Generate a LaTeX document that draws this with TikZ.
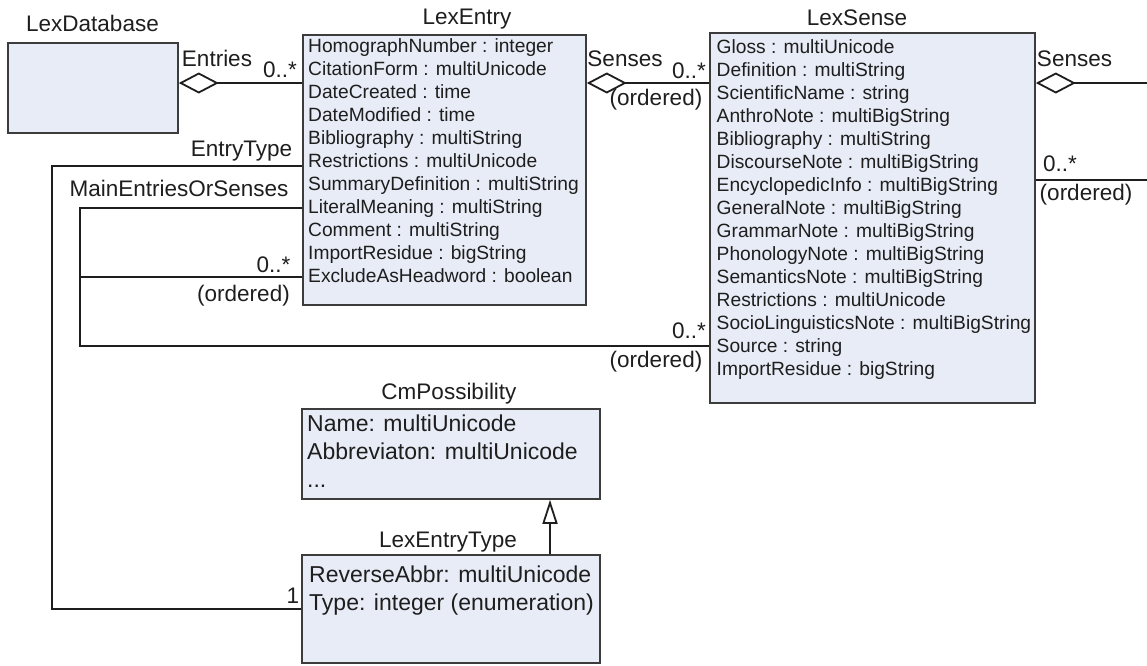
\documentclass[tikz,border=0pt]{standalone}
\usepackage{fontspec}
\setmainfont{Liberation Sans}
\usetikzlibrary{arrows.meta}
\definecolor{boxfill}{RGB}{232,236,246}
\definecolor{ink}{RGB}{30,30,30}
\definecolor{frame}{RGB}{60,60,60}

\begin{document}
\begin{tikzpicture}[x=1pt,y=-1pt,
  cls/.style={draw=frame, fill=boxfill, line width=1.8pt, inner sep=0pt, anchor=north west},
  title/.style={font=\fontsize{22.5pt}{27pt}\selectfont, text=ink, inner sep=0pt, anchor=base},
  lbl/.style={font=\fontsize{22.5pt}{27pt}\selectfont, text=ink, inner sep=0pt},
  attrs/.style={font=\fontsize{19.2pt}{23pt}\selectfont, text=ink, inner sep=0pt, anchor=north west, align=left},
  attrsbig/.style={font=\fontsize{23pt}{28pt}\selectfont, text=ink, inner sep=0pt, anchor=north west, align=left},
  assoc/.style={draw=ink, line width=1.8pt},
  agg/.style={assoc, {Diamond[open,length=40pt,width=21pt]}-},
  gen/.style={assoc, -{Triangle[open,length=24pt,width=15pt]}},
]
\fill[white] (0,0) rectangle (1147,665);
\useasboundingbox (0,0) rectangle (1147,665);

% classes
\node[cls, minimum width=170pt, minimum height=90pt] (db) at (7,42) {};
\node[cls, minimum width=283pt, minimum height=270pt] (entry) at (302,34) {};
\node[cls, minimum width=325pt, minimum height=370pt] (sense) at (709,32) {};
\node[cls, minimum width=298pt, minimum height=90pt] (poss) at (301,408) {};
\node[cls, minimum width=298pt, minimum height=108pt] (etype) at (301,554) {};

% class names
\node[title] (tdb) at (92.5,31) {LexDatabase};
\node[title] (tentry) at (467,24) {LexEntry};
\node[title] (tsense) at (857,25) {LexSense};
\node[title] (tposs) at (449,399) {CmPossibility};
\node[title] (tetype) at (448,547) {LexEntryType};

% attributes
\node[attrs] (aentry) at (308,38.5) {HomographNumber : integer\\
CitationForm : multiUnicode\\
DateCreated : time\\
DateModified : time\\
Bibliography : multiString\\
Restrictions : multiUnicode\\
SummaryDefinition : multiString\\
LiteralMeaning : multiString\\
Comment : multiString\\
ImportResidue : bigString\\
ExcludeAsHeadword : boolean};

\node[attrs] (asense) at (716.5,39.5) {Gloss : multiUnicode\\
Definition : multiString\\
ScientificName : string\\
AnthroNote : multiBigString\\
Bibliography : multiString\\
DiscourseNote : multiBigString\\
EncyclopedicInfo : multiBigString\\
GeneralNote : multiBigString\\
GrammarNote : multiBigString\\
PhonologyNote : multiBigString\\
SemanticsNote : multiBigString\\
Restrictions : multiUnicode\\
SocioLinguisticsNote : multiBigString\\
Source : string\\
ImportResidue : bigString};

\node[attrsbig] (aposs) at (307,414.5) {Name: multiUnicode\\
Abbreviaton: multiUnicode\\
...};

\node[attrsbig] (aetype) at (309,565.5) {ReverseAbbr: multiUnicode\\
Type: integer (enumeration)};

% free ends and junctions of connectors
\coordinate (outA) at (1147,83);
\coordinate (outB) at (1147,180);
\coordinate (mj) at (80,277);

% aggregations
\draw[agg] (db.east |- 0,83) -- (entry.west |- 0,83);
\draw[agg] (entry.east |- 0,83) -- (sense.west |- 0,83);
\draw[agg] (sense.east |- 0,83) -- (outA);
\draw[assoc] (sense.east |- 0,180) -- (outB);

% EntryType
\draw[assoc] (entry.west |- 0,166) -- (52,166) -- (52,609) -- (etype.west |- 0,609);

% MainEntriesOrSenses
\draw[assoc] (entry.west |- 0,208) -- (80,208) -- (80,346) -- (sense.west |- 0,346);
\draw[assoc] (mj) -- (entry.west |- mj);

% generalization
\draw[gen] (etype.north -| 550,0) -- (poss.south -| 550,0);

% connector labels
\node[lbl] (lentries) at (217,58) {Entries};
\node[lbl] (mentries) at (280,70) {0..*};
\node[lbl] (lsenses) at (625,59) {Senses};
\node[lbl] (msenses) at (689,71) {0..*};
\node[lbl] (osenses) at (656,100) {(ordered)};
\node[lbl] (lsenses2) at (1074.5,58.5) {Senses};
\node[lbl] (msenses2) at (1060,164) {0..*};
\node[lbl] (osenses2) at (1086,195) {(ordered)};
\node[lbl] (ltype) at (241.5,151) {EntryType};
\node[lbl] (lmain) at (179,188.5) {MainEntriesOrSenses};
\node[lbl] (mmain) at (273.5,264.5) {0..*};
\node[lbl] (omain) at (243.5,296) {(ordered)};
\node[lbl] (mmain2) at (689,331) {0..*};
\node[lbl] (omain2) at (656,362) {(ordered)};
\node[lbl] (mtype) at (293,596) {1};
\end{tikzpicture}
\end{document}
